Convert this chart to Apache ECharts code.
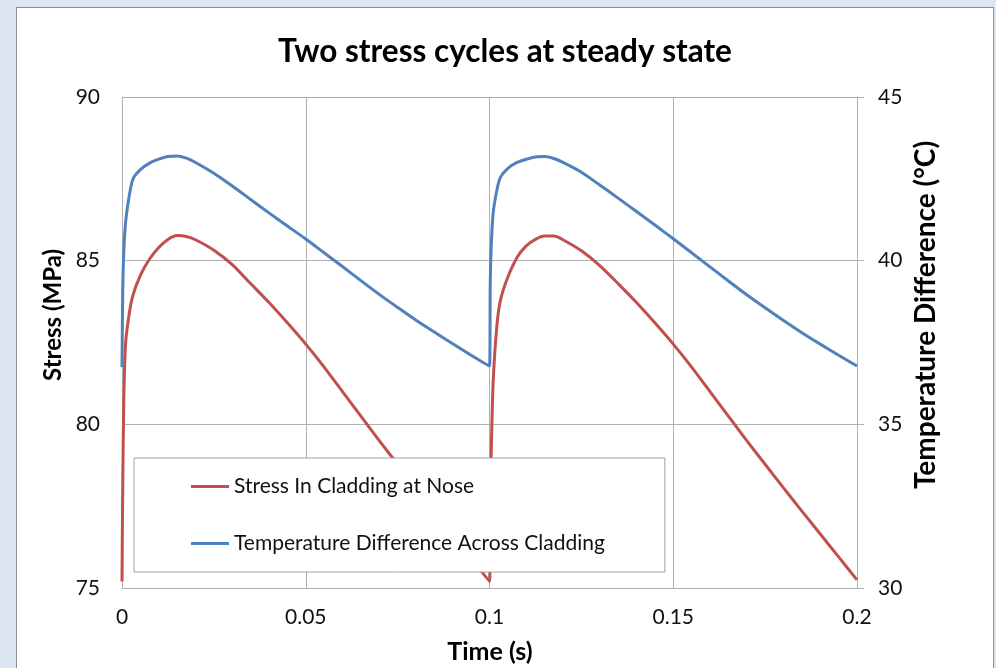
<!DOCTYPE html>
<html>
<head>
<meta charset="utf-8">
<title>Two stress cycles at steady state</title>
<script src="https://cdn.jsdelivr.net/npm/echarts@6/dist/echarts.min.js"></script>
<style>
  html, body { margin: 0; padding: 0; background: #dce6f2; }
  #card {
    position: absolute; left: 16px; top: 7px; width: 978px; height: 700px;
    background: #ffffff; border: 1px solid #8e8e8e; box-sizing: border-box;
  }
  #chart { position: absolute; left: 0; top: 0; width: 996px; height: 668px; }
</style>
</head>
<body>
<div id="card"></div>
<div id="chart"></div>
<script>
// Sample times (s) shared by both series, two 0.1 s cycles
const timeValues = [
  0, 0.0002, 0.0005, 0.001, 0.002, 0.003, 0.005, 0.0075, 0.01, 0.0125, 0.015, 0.0175,
  0.02, 0.025, 0.03, 0.035, 0.04, 0.045, 0.05, 0.055, 0.06, 0.065, 0.07, 0.075, 0.08,
  0.085, 0.09, 0.095, 0.1,
  0.1002, 0.1005, 0.101, 0.102, 0.103, 0.105, 0.1075, 0.11, 0.1125, 0.115, 0.1175,
  0.12, 0.125, 0.13, 0.135, 0.14, 0.145, 0.15, 0.155, 0.16, 0.165, 0.17, 0.175, 0.18,
  0.185, 0.19, 0.195, 0.2
];

// Stress in cladding at nose (MPa)
const stressValues = [
  75.2, 78.1, 80.8, 82.5, 83.4, 83.95, 84.55, 85.05, 85.4, 85.65, 85.77, 85.74,
  85.64, 85.32, 84.88, 84.3, 83.72, 83.1, 82.45, 81.75, 81.0, 80.25, 79.5, 78.78, 78.05,
  77.35, 76.62, 75.9, 75.2,
  77.6, 79.3, 81.3, 83.0, 83.8, 84.5, 85.1, 85.45, 85.65, 85.75, 85.75,
  85.64, 85.3, 84.85, 84.3, 83.72, 83.1, 82.45, 81.75, 81.0, 80.25, 79.5, 78.78, 78.06,
  77.35, 76.65, 75.95, 75.25
];

// Temperature difference across cladding (°C)
const tempValues = [
  36.75, 39.1, 40.3, 41.2, 42.0, 42.5, 42.78, 42.98, 43.1, 43.18, 43.2, 43.13,
  43.0, 42.67, 42.28, 41.87, 41.46, 41.06, 40.66, 40.24, 39.82, 39.39, 38.97, 38.57, 38.18,
  37.82, 37.46, 37.11, 36.78,
  39.3, 40.5, 41.45, 42.15, 42.55, 42.82, 43.0, 43.1, 43.17, 43.18, 43.12,
  43.0, 42.7, 42.31, 41.91, 41.5, 41.09, 40.67, 40.24, 39.81, 39.38, 38.96, 38.56, 38.17,
  37.8, 37.45, 37.11, 36.78
];

const seriesNames = ['Stress In Cladding at Nose', 'Temperature Difference Across Cladding'];
const titleText = 'Two stress cycles at steady state';
const xTitle = 'Time (s)';
const yLeftTitle = 'Stress (MPa)';
const yRightTitle = 'Temperature Difference (°C)';

const FONT = 'Lato, "Open Sans", sans-serif';
const GRID_COLOR = '#b0b0b0';

const pairs = (ys) => timeValues.map((t, i) => [t, ys[i]]);

const chart = echarts.init(document.getElementById('chart'), null, { renderer: 'canvas' });

chart.setOption({
  backgroundColor: 'transparent',
  animation: false,
  textStyle: { fontFamily: FONT },
  grid: { left: 122, right: 139, top: 97, bottom: 80, containLabel: false },
  xAxis: {
    type: 'value', min: 0, max: 0.2, interval: 0.05,
    axisLine: { show: true, lineStyle: { color: GRID_COLOR, width: 1 } },
    axisTick: { show: false },
    splitLine: { show: true, lineStyle: { color: GRID_COLOR, width: 1 } },
    axisLabel: { color: '#111', fontSize: 21, fontFamily: FONT, margin: 19 }
  },
  yAxis: [
    {
      type: 'value', position: 'left', min: 75, max: 90, interval: 5,
      axisLine: { show: true, lineStyle: { color: GRID_COLOR, width: 1 } },
      axisTick: { show: false },
      splitLine: { show: true, lineStyle: { color: GRID_COLOR, width: 1 } },
      axisLabel: { color: '#111', fontSize: 21, fontFamily: FONT, margin: 22 }
    },
    {
      type: 'value', position: 'right', min: 30, max: 45, interval: 5,
      axisLine: { show: true, lineStyle: { color: GRID_COLOR, width: 1 } },
      axisTick: { show: true, inside: false, length: 7, lineStyle: { color: GRID_COLOR } },
      splitLine: { show: false },
      axisLabel: { color: '#111', fontSize: 21, fontFamily: FONT, margin: 21 }
    }
  ],
  legend: {
    orient: 'vertical', left: 134, top: 458, z: 5,
    padding: [18, 60, 18, 57],
    backgroundColor: '#ffffff', borderColor: '#a0a0a0', borderWidth: 1, borderRadius: 0,
    icon: 'rect', itemWidth: 38, itemHeight: 3, itemGap: 36,
    textStyle: { color: '#111', fontSize: 21, lineHeight: 20, fontFamily: FONT },
    data: seriesNames
  },
  graphic: [
    {
      type: 'text', x: 505, y: 52, z: 5,
      style: { text: titleText, font: 'bold 31.5px ' + FONT, fill: '#000', textAlign: 'center', textVerticalAlign: 'middle' }
    },
    {
      type: 'text', x: 490, y: 652, z: 5,
      style: { text: xTitle, font: 'bold 25px ' + FONT, fill: '#000', textAlign: 'center', textVerticalAlign: 'middle' }
    },
    {
      type: 'text', x: 53, y: 315, rotation: Math.PI / 2, z: 5,
      style: { text: yLeftTitle, font: 'bold 24px ' + FONT, fill: '#000', textAlign: 'center', textVerticalAlign: 'middle' }
    },
    {
      type: 'text', x: 926, y: 315, rotation: Math.PI / 2, z: 5,
      style: { text: yRightTitle, font: 'bold 28px ' + FONT, fill: '#000', textAlign: 'center', textVerticalAlign: 'middle' }
    }
  ],
  series: [
    {
      name: seriesNames[0], type: 'line', yAxisIndex: 0,
      data: pairs(stressValues),
      showSymbol: false, smooth: 0.25,
      itemStyle: { color: '#c0504d' },
      lineStyle: { color: '#c0504d', width: 3 }
    },
    {
      name: seriesNames[1], type: 'line', yAxisIndex: 1,
      data: pairs(tempValues),
      showSymbol: false, smooth: 0.25,
      itemStyle: { color: '#4f81bd' },
      lineStyle: { color: '#4f81bd', width: 3 }
    }
  ]
});
</script>
</body>
</html>
